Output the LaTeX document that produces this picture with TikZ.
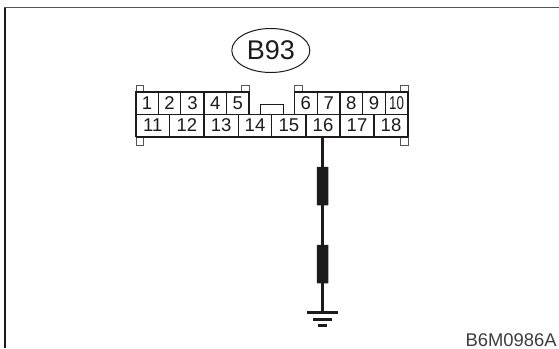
\documentclass[tikz,border=0pt]{standalone}
\usepackage{fontspec}
\setmainfont{Liberation Sans}
\usetikzlibrary{shapes.geometric}
\definecolor{ink}{HTML}{1C1A1B}
\definecolor{framegray}{HTML}{555555}
\tikzset{
  cellbox/.style={draw=ink,line width=1.1pt,inner sep=0pt,outer sep=0pt,minimum height=#1,text=ink,font=\fontsize{18.5}{18.5}\selectfont},
  cellbox/.default={22.5pt},
  tabbox/.style={draw=ink!75,line width=1pt},
  rule/.style={draw=ink,line width=1.5pt},
  wire/.style={draw=ink,line width=3.7pt},
  filter/.style={fill=ink,draw=none,inner sep=0pt,outer sep=0pt,minimum width=11.4pt,minimum height=38.5pt,rounded corners=0.5pt},
  gnd/.style={draw=ink,line width=#1},
  framel/.style={draw=ink,line width=1.6pt},
  framet/.style={draw=framegray,line width=1.6pt},
}
\begin{document}
\begin{tikzpicture}[x=1pt,y=-1pt]
\useasboundingbox (0,0) rectangle (559,348);
% frame
\draw[framel] (5.2,348) -- (5.2,7.5);
\draw[framet] (4.4,7.5) -- (559,7.5);
% title
\node[ellipse,draw=ink,line width=1pt,minimum width=78pt,minimum height=44pt,inner sep=0pt,text=ink,font=\fontsize{27}{27}\selectfont] (title) at (270.8,50.5) {B93};
% tabs
\draw[tabbox] (136,92) rectangle (143.3,85);
\draw[tabbox] (241.5,92) rectangle (249,85);
\draw[tabbox] (294.3,92) rectangle (302,85);
\draw[tabbox] (400.5,92) rectangle (408,85);
\draw[tabbox] (136,137) rectangle (143.3,145);
\draw[tabbox] (400.5,137) rectangle (408,145);
% top row
\foreach \t/\a/\b in {1/136/158.2,2/158.2/180.9,3/180.9/204,4/204/226.7,5/226.7/249,6/294.3/317.3,7/317.3/340,8/340/362.7,9/362.7/385.3}{
  \pgfmathsetmacro\cx{(\a+\b)/2}
  \pgfmathsetmacro\cw{\b-\a}
  \node[cellbox,minimum width=\cw pt] (c\t) at (\cx,103) {\t};
}
\node[cellbox,minimum width=22.7pt] (c10) at (396.65,103) {\scalebox{0.72}[1]{10}};
% bottom row
\foreach \t/\a/\b in {11/136/169.7,12/169.7/204,13/204/238.3,14/238.3/271.7,15/271.7/306,16/306/340,17/340/374,18/374/408}{
  \pgfmathsetmacro\cx{(\a+\b)/2}
  \pgfmathsetmacro\cw{\b-\a}
  \node[cellbox,minimum width=\cw pt] (c\t) at (\cx,125.5) {\t};
}
% heavier outline on top of the blocks
\draw[rule] (136,92) -- (249,92);
\draw[rule] (294.3,92) -- (408,92);
\draw[rule] (136,137) -- (408,137);
% notch
\draw[draw=ink,line width=1pt] (260.3,114) -- (260.3,104) -- (283.7,104) -- (283.7,114);
% harness
\node[filter] (f1) at (322.6,186) {};
\node[filter] (f2) at (322.6,264) {};
\coordinate (g) at (322.6,312.7);
\draw[wire] (f1 |- c16.south) -- (f1.north);
\draw[wire] (f1.south) -- (f2.north);
\draw[wire] (f2.south) -- (g);
% ground symbol
\draw[gnd=3pt] ([xshift=-15.2pt]g) -- ([xshift=15.2pt]g);
\draw[gnd=2.6pt] ([xshift=-9.2pt,yshift=-6.8pt]g) -- ([xshift=9.2pt,yshift=-6.8pt]g);
\draw[gnd=2.6pt] ([xshift=-4.7pt,yshift=-12.8pt]g) -- ([xshift=4.7pt,yshift=-12.8pt]g);
% code
\node[anchor=base east,inner sep=0pt,text=ink!85,font=\fontsize{18.4}{18.4}\selectfont] (code) at (556.8,346.8) {B6M0986A};
\end{tikzpicture}
\end{document}
